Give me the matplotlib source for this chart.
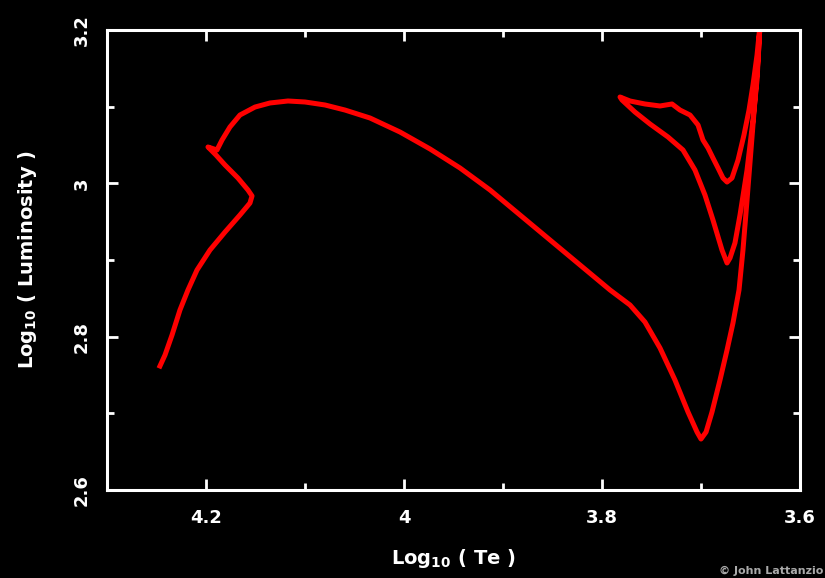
import matplotlib
matplotlib.use("Agg")
import matplotlib.pyplot as plt
from matplotlib.ticker import MultipleLocator

# evolutionary track: log Te, log L
log_te = [4.2465, 4.2414, 4.2343, 4.2263, 4.2182, 4.2091, 4.1960, 4.1808, 4.1657, 4.1556,
          4.1535, 4.1576, 4.1677, 4.1808, 4.1899, 4.1980, 4.1889, 4.1838, 4.1758, 4.1657,
          4.1505, 4.1354, 4.1172, 4.1000, 4.0798, 4.0596, 4.0343, 4.0040, 3.9737, 3.9434,
          3.9131, 3.8828, 3.8525, 3.8222, 3.7919, 3.7717, 3.7566, 3.7414, 3.7263, 3.7131,
          3.7040, 3.7000,
          3.6949, 3.6889, 3.6808, 3.6737, 3.6677, 3.6616, 3.6576, 3.6535, 3.6495, 3.6455,
          3.6424, 3.6404,
          3.6434, 3.6475, 3.6535, 3.6606, 3.6657, 3.6707, 3.6737,
          3.6788, 3.6879, 3.6960, 3.7061, 3.7182, 3.7333, 3.7515, 3.7667, 3.7798, 3.7818,
          3.7717, 3.7566, 3.7414, 3.7293, 3.7212, 3.7111, 3.7030, 3.6980, 3.6929, 3.6879,
          3.6828, 3.6778, 3.6737, 3.6687, 3.6626, 3.6566, 3.6515, 3.6475, 3.6434, 3.6404]
log_l = [2.7617, 2.7761, 2.8022, 2.8348, 2.8609, 2.8869, 2.9130, 2.9365, 2.9587, 2.9743,
         2.9835, 2.9913, 3.0069, 3.0239, 3.0369, 3.0474, 3.0435, 3.0565, 3.0735, 3.0891,
         3.0995, 3.1048, 3.1074, 3.1061, 3.1022, 3.0956, 3.0852, 3.0669, 3.0448, 3.0200,
         2.9913, 2.9587, 2.9261, 2.8935, 2.8609, 2.8413, 2.8191, 2.7852, 2.7435, 2.7017,
         2.6756, 2.6665,
         2.6756, 2.7017, 2.7435, 2.7826, 2.8178, 2.8609, 2.9130, 2.9783, 3.0435, 3.1087,
         3.1609, 3.2065,
         3.1348, 3.0826, 3.0174, 2.9587, 2.9222, 2.9026, 2.8961,
         2.9130, 2.9522, 2.9848, 3.0174, 3.0435, 3.0604, 3.0774, 3.0930, 3.1087, 3.1126,
         3.1074, 3.1035, 3.1009, 3.1035, 3.0956, 3.0891, 3.0761, 3.0565, 3.0461, 3.0330,
         3.0200, 3.0069, 3.0017, 3.0069, 3.0304, 3.0630, 3.0956, 3.1283, 3.1674, 3.2065]

fig = plt.figure(figsize=(8.25, 5.78), dpi=100, facecolor="black")
ax = fig.add_axes([107 / 825, 88 / 578, 693 / 825, 460 / 578])
ax.set_facecolor("black")

ax.plot(log_te, log_l, color="#ff0000", lw=3.6, solid_joinstyle="round")

ax.set_xlim(4.3, 3.6)
ax.set_ylim(2.6, 3.2)
ax.xaxis.set_major_locator(MultipleLocator(0.2))
ax.xaxis.set_minor_locator(MultipleLocator(0.1))
ax.yaxis.set_major_locator(MultipleLocator(0.2))
ax.yaxis.set_minor_locator(MultipleLocator(0.1))
ax.xaxis.set_major_formatter(plt.FuncFormatter(lambda v, p: f"{v:g}"))
ax.yaxis.set_major_formatter(plt.FuncFormatter(lambda v, p: f"{v:g}"))

for s in ax.spines.values():
    s.set_color("white")
    s.set_linewidth(2.2)
ax.tick_params(which="both", direction="in", colors="white", width=2,
               top=True, right=True)
ax.tick_params(which="major", length=8, labelsize=13)
ax.tick_params(axis="x", which="major", pad=14)
ax.tick_params(axis="y", which="major", pad=12)
ax.tick_params(which="minor", length=5)
for lab in ax.get_xticklabels() + ax.get_yticklabels():
    lab.set_fontweight("bold")
for lab in ax.get_yticklabels():
    lab.set_rotation(90)
    lab.set_va("center")

ax.set_xlabel(r"Log$_{\mathbf{10}}$ ( Te )", color="white", fontsize=14,
              fontweight="bold", labelpad=14)
ax.set_ylabel(r"Log$_{\mathbf{10}}$ ( Luminosity )", color="white", fontsize=14,
              fontweight="bold", labelpad=24)

fig.text(823 / 825, 2 / 578, "\u00a9 John Lattanzio", color="#aaaaaa",
         fontsize=8, fontweight="bold", va="bottom", ha="right")

fig.savefig("out.png", dpi=100, facecolor="black")
